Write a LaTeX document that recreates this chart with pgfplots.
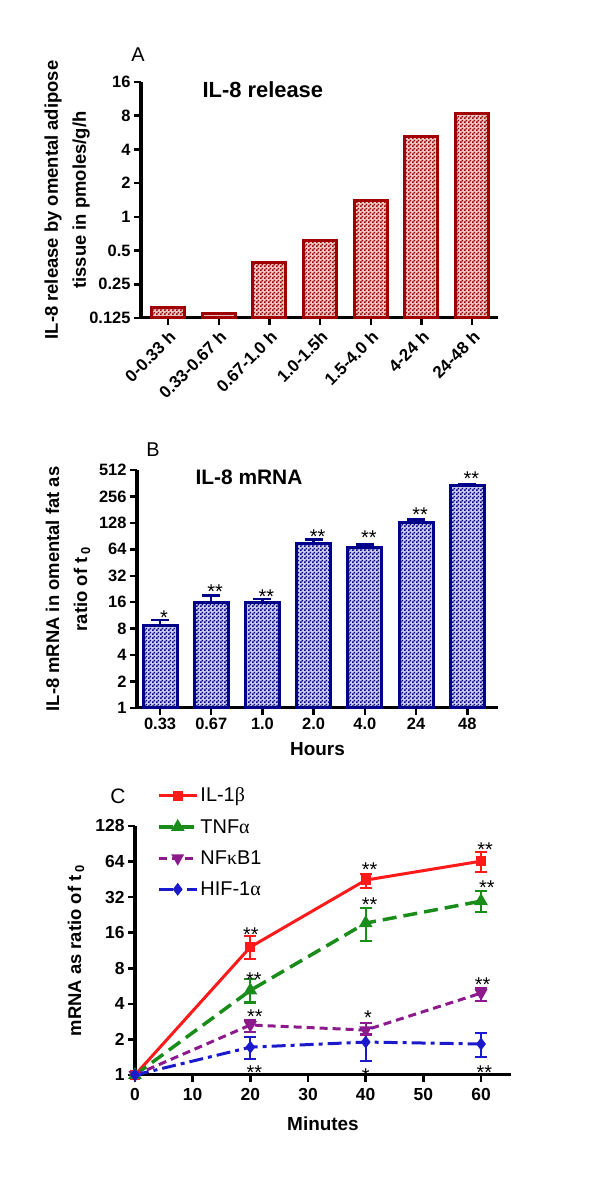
\documentclass[border=0pt]{standalone}
\usepackage{fontspec}
\setmainfont{Liberation Sans}
\newfontfamily\grk{Liberation Serif}
\usepackage{pgfplots}
\pgfplotsset{compat=1.18}
\usetikzlibrary{patterns}

\definecolor{darkred}{HTML}{A00000}
\definecolor{navyb}{HTML}{00008B}
\definecolor{ilred}{HTML}{FF1A1A}
\definecolor{tnfgreen}{HTML}{1A8C1A}
\definecolor{nfpurple}{HTML}{8C1A8C}
\definecolor{hifblue}{HTML}{1A1ACC}

% small checks, about 2px each, like the reference fill
\pgfdeclarepatternformonly{finechecker}{\pgfpointorigin}{\pgfqpoint{4bp}{4bp}}{\pgfqpoint{4bp}{4bp}}{
  \pgfpathrectangle{\pgfpointorigin}{\pgfqpoint{2bp}{2bp}}
  \pgfpathrectangle{\pgfqpoint{2bp}{2bp}}{\pgfqpoint{2bp}{2bp}}
  \pgfusepath{fill}}

\tikzset{star/.style={font=\fontsize{20}{20}\selectfont, inner sep=0pt, yshift=-4.5bp}}
\pgfplotsset{
  panel/.style={
    scale only axis,
    axis lines=left,
    axis line style={-, line width=3bp},
    tick style={line width=2.5bp, black},
    major tick length=7bp,
    tick align=outside,
    yminorticks=false,
    tick label style={font=\fontsize{16.5}{18}\selectfont\bfseries},
    /pgf/number format/assume math mode=true,
    label style={font=\fontsize{18.5}{28}\selectfont\bfseries, align=center},
    clip=false,
  },
}

\begin{document}
\begin{tikzpicture}
\useasboundingbox (0,0) rectangle (600bp,1179bp);

% ---- panel A
\begin{axis}[panel, at={(141bp,861bp)}, anchor=south west,
  width=357bp, height=236bp,
  ymode=log, log basis y=2, ymin=0.125, ymax=16, log origin y=infty,
  ytick={0.125,0.25,0.5,1,2,4,8,16},
  yticklabels={0.125,0.25,0.5,1,2,4,8,16},
  xmin=-0.535, xmax=6.51, xtick={0,...,6},
  xticklabels={0-0.33 h,0.33-0.67 h,0.67-1.0 h,1.0-1.5h,1.5-4.0 h,4-24 h,24-48 h},
  xticklabel style={rotate=45, anchor=north east, font=\fontsize{17}{17}\selectfont\bfseries},
  ylabel={IL-8 release by omental adipose\\tissue in pmoles/g/h},
  ylabel style={at={(axis description cs:-0.207,0.5)}, anchor=center},
]
\addplot[ybar, bar width=33bp, draw=darkred, line width=3bp,
  fill=darkred!22, postaction={pattern=finechecker, pattern color=darkred}]
  coordinates {(0,0.154) (1,0.138) (2,0.395) (3,0.61) (4,1.41) (5,5.17) (6,8.3)};
\end{axis}
\node[font=\fontsize{20}{20}\selectfont] at (138bp,1124bp) {A};
\node[font=\fontsize{22}{22}\selectfont\bfseries, anchor=west] at (199bp,1089bp) {IL-8 release};

% ---- panel B
\begin{axis}[panel, at={(137bp,471bp)}, anchor=south west,
  width=361bp, height=238bp,
  ymode=log, log basis y=2, ymin=1, ymax=512, log origin y=infty,
  ytick={1,2,4,8,16,32,64,128,256,512},
  yticklabels={1,2,4,8,16,32,64,128,256,512},
  xmin=-0.45, xmax=6.6, xtick={0,...,6},
  xticklabels={0.33,0.67,1.0,2.0,4.0,24,48},
  xlabel={Hours},
  xlabel style={font=\fontsize{19}{19}\selectfont\bfseries, yshift=-5bp},
  ylabel={IL-8 mRNA in omental fat as\\ratio of t\,\textsubscript{0}},
  ylabel style={at={(axis description cs:-0.191,0.5)}, anchor=center},
]
\addplot[ybar, bar width=34bp, draw=navyb, line width=3bp,
  fill=navyb!20, postaction={pattern=finechecker, pattern color=navyb},
  error bars/.cd, y dir=plus, y explicit,
  error bar style={line width=2.5bp, navyb},
  error mark options={rotate=90, mark size=9bp, line width=2.5bp, navyb}]
  coordinates {(0,8.8) +- (0,1.2) (1,16) +- (0,3.2) (2,16) +- (0,1.3)
    (3,75) +- (0,8) (4,67.5) +- (0,5.5) (5,130) +- (0,10) (6,342) +- (0,8)};
\node[star, xshift=4bp] at (axis cs:0,12.0) {*};
\node[star, xshift=4bp] at (axis cs:1,23.7) {**};
\node[star, xshift=4bp] at (axis cs:2,20.8) {**};
\node[star, xshift=4bp] at (axis cs:3,99.8) {**};
\node[star, xshift=4bp] at (axis cs:4,97) {**};
\node[star, xshift=4bp] at (axis cs:5,177) {**};
\node[star, xshift=4bp] at (axis cs:6,455) {**};
\end{axis}
\node[font=\fontsize{20}{20}\selectfont] at (153bp,729bp) {B};
\node[font=\fontsize{21}{21}\selectfont\bfseries, anchor=west] at (192bp,702bp) {IL-8 mRNA};

% ---- panel C
\begin{axis}[panel, at={(135bp,104bp)}, anchor=south west,
  width=376bp, height=249bp,
  ymode=log, log basis y=2, ymin=1, ymax=128,
  ytick={1,2,4,8,16,32,64,128},
  yticklabels={1,2,4,8,16,32,64,128},
  xmin=0, xmax=65.2, xtick={0,10,...,60},
  tick label style={font=\fontsize{17.5}{18}\selectfont\bfseries},
  xticklabel style={yshift=-3bp},
  xlabel={Minutes},
  xlabel style={font=\fontsize{19}{19}\selectfont\bfseries, yshift=-9bp},
  ylabel={mRNA as ratio of t\,\textsubscript{0}},
  ylabel style={at={(axis description cs:-0.157,0.5)}, anchor=center},
  legend style={at={(0.05,1.17)}, anchor=north west, draw=none, fill=none,
    font=\fontsize{20}{20}\selectfont, row sep=12bp},
  legend cell align=left,
  legend image code/.code={\draw[mark repeat=2,mark phase=2]
    plot coordinates {(0bp,0bp) (19bp,0bp) (38bp,0bp)};},
  every axis plot/.append style={
    error bars/y dir=both, error bars/y explicit},
]
\addplot[ilred, line width=3bp, mark=square*, mark size=3.5bp, mark options={solid},
  error bars/error bar style={line width=2.2bp, solid},
  error bars/error mark options={rotate=90, mark size=6bp, line width=2.2bp, solid}]
  table[x=x, y=y, y error plus=ep, y error minus=em] {
  x  y    ep   em
  0  1    0    0
  20 12.1 2.9  2.5
  40 44.6 5.4  6.6
  60 64.5 12.5 12.5
  };
\addplot[tnfgreen, line width=3.5bp, dash pattern=on 14bp off 7bp,
  mark=triangle*, mark size=4.5bp, mark options={solid},
  error bars/error bar style={line width=2.2bp, solid},
  error bars/error mark options={rotate=90, mark size=6bp, line width=2.2bp, solid}]
  table[x=x, y=y, y error plus=ep, y error minus=em] {
  x  y    ep  em
  0  1    0   0
  20 5.2  1.3 1.1
  40 19.3 6.5 5.7
  60 29.6 6.4 5.6
  };
\addplot[nfpurple, line width=3bp, dash pattern=on 8bp off 5bp,
  mark=triangle*, mark size=4.5bp, mark options={solid, rotate=180},
  error bars/error bar style={line width=2.2bp, solid},
  error bars/error mark options={rotate=90, mark size=6bp, line width=2.2bp, solid}]
  table[x=x, y=y, y error plus=ep, y error minus=em] {
  x  y    ep   em
  0  1    0    0
  20 2.65 0.27 0.35
  40 2.4  0.35 0.2
  60 4.93 0.47 0.73
  };
\addplot[hifblue, line width=3bp, dash pattern=on 14bp off 5bp on 4bp off 5bp,
  mark=diamond*, mark size=4bp, mark options={solid},
  error bars/error bar style={line width=2.2bp, solid},
  error bars/error mark options={rotate=90, mark size=6bp, line width=2.2bp, solid}]
  table[x=x, y=y, y error plus=ep, y error minus=em] {
  x  y    ep   em
  0  1    0    0
  20 1.72 0.38 0.35
  40 1.9  0.6  0.59
  60 1.83 0.44 0.41
  };
\legend{IL-1{\grk β},TNF{\grk α},NF{\grk κ}B1,HIF-1{\grk α}}
\node[star] at (axis cs:20.1,16.8) {**};
\node[star] at (axis cs:40.7,59.7) {**};
\node[star] at (axis cs:60.7,88) {**};
\node[star] at (axis cs:20.6,7.0) {**};
\node[star] at (axis cs:40.7,30.2) {**};
\node[star] at (axis cs:61,42) {**};
\node[star] at (axis cs:20.8,3.41) {**};
\node[star] at (axis cs:40.4,3.34) {*};
\node[star] at (axis cs:60.3,6.36) {**};
\node[star] at (axis cs:20.7,1.146) {**};
\node[star] at (axis cs:40,1.08) {*};
\node[star] at (axis cs:60.6,1.146) {**};
\end{axis}
\node[font=\fontsize{21}{21}\selectfont] at (118bp,383bp) {C};
\end{tikzpicture}
\end{document}
